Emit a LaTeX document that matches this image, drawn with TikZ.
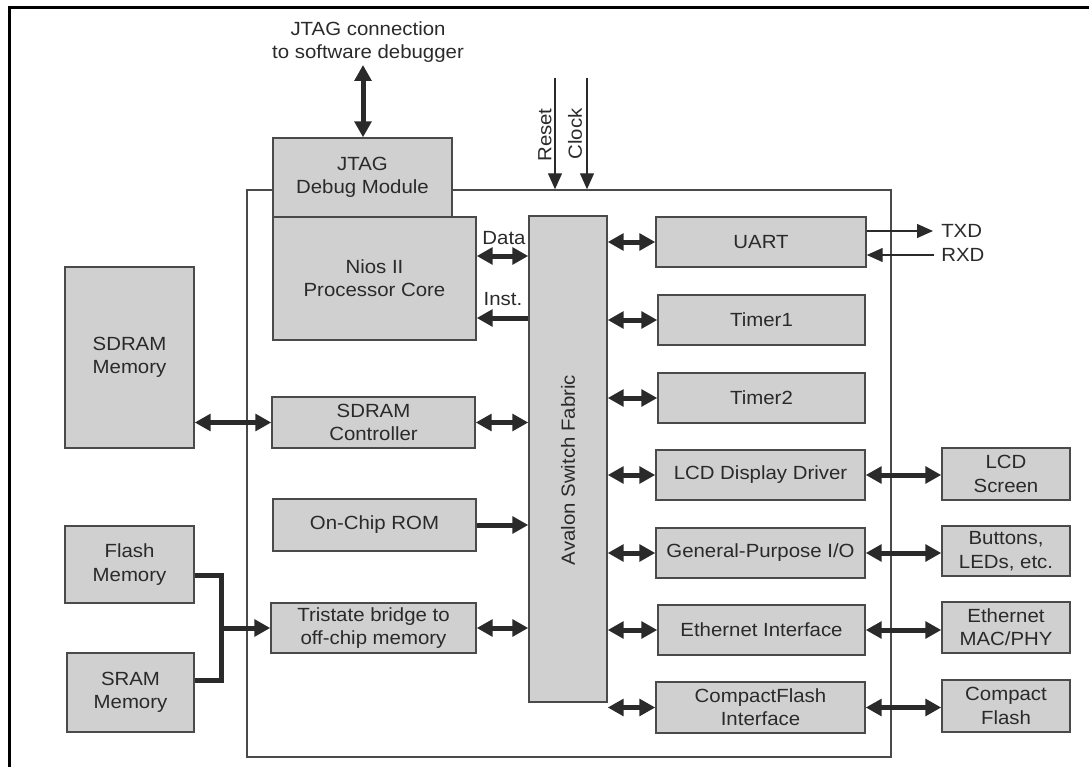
\documentclass[tikz,border=0pt]{standalone}
\usepackage{fontspec}
\setmainfont{Liberation Sans}[FakeStretch=1.07]
\usetikzlibrary{arrows.meta,fit,calc}
\definecolor{boxfill}{HTML}{D0D0D0}
\definecolor{boxline}{HTML}{4A4A4A}
\definecolor{txt}{HTML}{2A2A2A}
\definecolor{arr}{HTML}{2A2A2A}
\begin{document}
\begin{tikzpicture}[x=0.75pt,y=-0.75pt,
  font=\fontsize{14.3}{17.5}\selectfont,
  box/.style={draw=boxline, fill=boxfill, line width=1.1pt, inner sep=0pt},
  chip/.style={draw=boxline, line width=1.1pt, inner sep=0pt},
  dbl/.style={draw=arr, line width=3.75pt, {Triangle[length=12pt,width=12.5pt]}-{Triangle[length=12pt,width=12.5pt]}},
  sgl/.style={draw=arr, line width=3.75pt, -{Triangle[length=12pt,width=12.5pt]}},
  bus/.style={draw=arr, line width=3.75pt, line join=miter},
  thinarr/.style={draw=arr, line width=1pt, -{Triangle[length=12pt,width=10.5pt]}},
  lbl/.style={text=txt, inner sep=0pt, align=center}]
\useasboundingbox (0,0) rectangle (1089,767);
% frame
\draw[line width=2.25pt, black] (9.5,767) -- (9.5,7.5) -- (1089,7.5);
% FPGA outline
\node[chip, fit={(247,190) (891,757)}] (fpga) {};
% boxes
\node[box, fit={(273,138) (452,217)}] (jtag) {};
\node[box, fit={(273,217) (476,340)}] (nios) {};
\node[box, fit={(529,216) (607,702)}] (avalon) {};
\node[box, fit={(656,217) (866,267)}] (uart) {};
\node[box, fit={(658,295) (865,345)}] (timer1) {};
\node[box, fit={(658,373) (865,423)}] (timer2) {};
\node[box, fit={(656,450) (865,500)}] (lcd) {};
\node[box, fit={(656,528) (865,578)}] (gpio) {};
\node[box, fit={(658,605) (865,655)}] (eth) {};
\node[box, fit={(656,682) (865,733)}] (cf) {};
\node[box, fit={(942,448) (1070,500)}] (lcdscr) {};
\node[box, fit={(942,526) (1070,576)}] (btn) {};
\node[box, fit={(942,602) (1070,653)}] (phy) {};
\node[box, fit={(942,680) (1070,732)}] (cflash) {};
\node[box, fit={(65,267) (194,448)}] (sdram) {};
\node[box, fit={(272,397) (475,448)}] (sdramctl) {};
\node[box, fit={(273,499) (476,551)}] (rom) {};
\node[box, fit={(271,603) (476,653)}] (tri) {};
\node[box, fit={(65,526) (194,603)}] (flash) {};
\node[box, fit={(67,653) (194,732)}] (sram) {};
% box texts
\node[lbl] (jtagl) at (jtag.center) {JTAG\\Debug Module};
\node[lbl] (niosl) at (nios.center) {Nios II\\Processor Core};
\node[lbl, rotate=90] (avtxt) at (568,470) {Avalon Switch Fabric};
\node[lbl] (uartl) at (uart.center) {UART};
\node[lbl] (timer1l) at (timer1.center) {Timer1};
\node[lbl] (timer2l) at (timer2.center) {Timer2};
\node[lbl] (lcdl) at (lcd.center) {LCD Display Driver};
\node[lbl] (gpiol) at (gpio.center) {General-Purpose I/O};
\node[lbl] (ethl) at (eth.center) {Ethernet Interface};
\node[lbl] (cfl) at (cf.center) {CompactFlash\\Interface};
\node[lbl] (lcdscrl) at (lcdscr.center) {LCD\\Screen};
\node[lbl] (btnl) at (btn.center) {Buttons,\\LEDs, etc.};
\node[lbl] (phyl) at (phy.center) {Ethernet\\MAC/PHY};
\node[lbl] (cflashl) at (cflash.center) {Compact\\Flash};
\node[lbl] (sdraml) at (sdram.center) {SDRAM\\Memory};
\node[lbl] (sdramctll) at (sdramctl.center) {SDRAM\\Controller};
\node[lbl] (roml) at (rom.center) {On-Chip ROM};
\node[lbl] (tril) at (tri.center) {Tristate bridge to\\off-chip memory};
\node[lbl] (flashl) at (flash.center) {Flash\\Memory};
\node[lbl] (sraml) at (sram.center) {SRAM\\Memory};
% labels
\node[lbl] (jtagtxt) at (368,42) {JTAG connection\\to software debugger};
\node[lbl, rotate=90] (rsttxt) at (545,135) {Reset};
\node[lbl, rotate=90] (clktxt) at (575,134) {Clock};
\node[lbl] (datatxt) at (504,238) {Data};
\node[lbl] (insttxt) at (503,299) {Inst.};
\node[lbl, anchor=west] (txd) at (941,231) {TXD};
\node[lbl, anchor=west] (rxd) at (941,255) {RXD};
% coordinates
\coordinate (jt) at (363,65);
\coordinate (rst) at (555,78);
\coordinate (clk) at (587,78);
\coordinate (dataY) at (0,256);
\coordinate (instY) at (0,318);
\coordinate (jtop) at (221,575);
\coordinate (jn) at (221,628);
\coordinate (jbot) at (221,680);
% connectors
\draw[dbl] (jt) -- (jt |- jtag.north);
\draw[thinarr] (rst) -- (rst |- fpga.north);
\draw[thinarr] (clk) -- (clk |- fpga.north);
\draw[dbl] (nios.east |- dataY) -- (avalon.west |- dataY);
\draw[sgl] (avalon.west |- instY) -- (nios.east |- instY);
\draw[dbl] (sdram.east |- sdramctl.west) -- (sdramctl.west);
\draw[dbl] (sdramctl.east) -- (avalon.west |- sdramctl.east);
\draw[sgl] (rom.east) -- (avalon.west |- rom.east);
\draw[dbl] (tri.east) -- (avalon.west |- tri.east);
\draw[bus] (flash.east |- jtop) -- (jtop) -- (jbot) -- (sram.east |- jbot);
\draw[sgl] (jn) -- (tri.west |- jn);
\foreach \n in {uart,timer1,timer2,lcd,gpio,eth,cf}
  \draw[dbl] (avalon.east |- \n.west) -- (\n.west);
\draw[dbl] (lcd.east) -- (lcdscr.west |- lcd.east);
\draw[dbl] (gpio.east) -- (btn.west |- gpio.east);
\draw[dbl] (eth.east) -- (phy.west |- eth.east);
\draw[dbl] (cf.east) -- (cflash.west |- cf.east);
\draw[thinarr] (uart.east |- txd.west) -- ([xshift=-6pt]txd.west);
\draw[thinarr] ([xshift=-5pt]rxd.west) -- (uart.east |- rxd.west);
\end{tikzpicture}
\end{document}
